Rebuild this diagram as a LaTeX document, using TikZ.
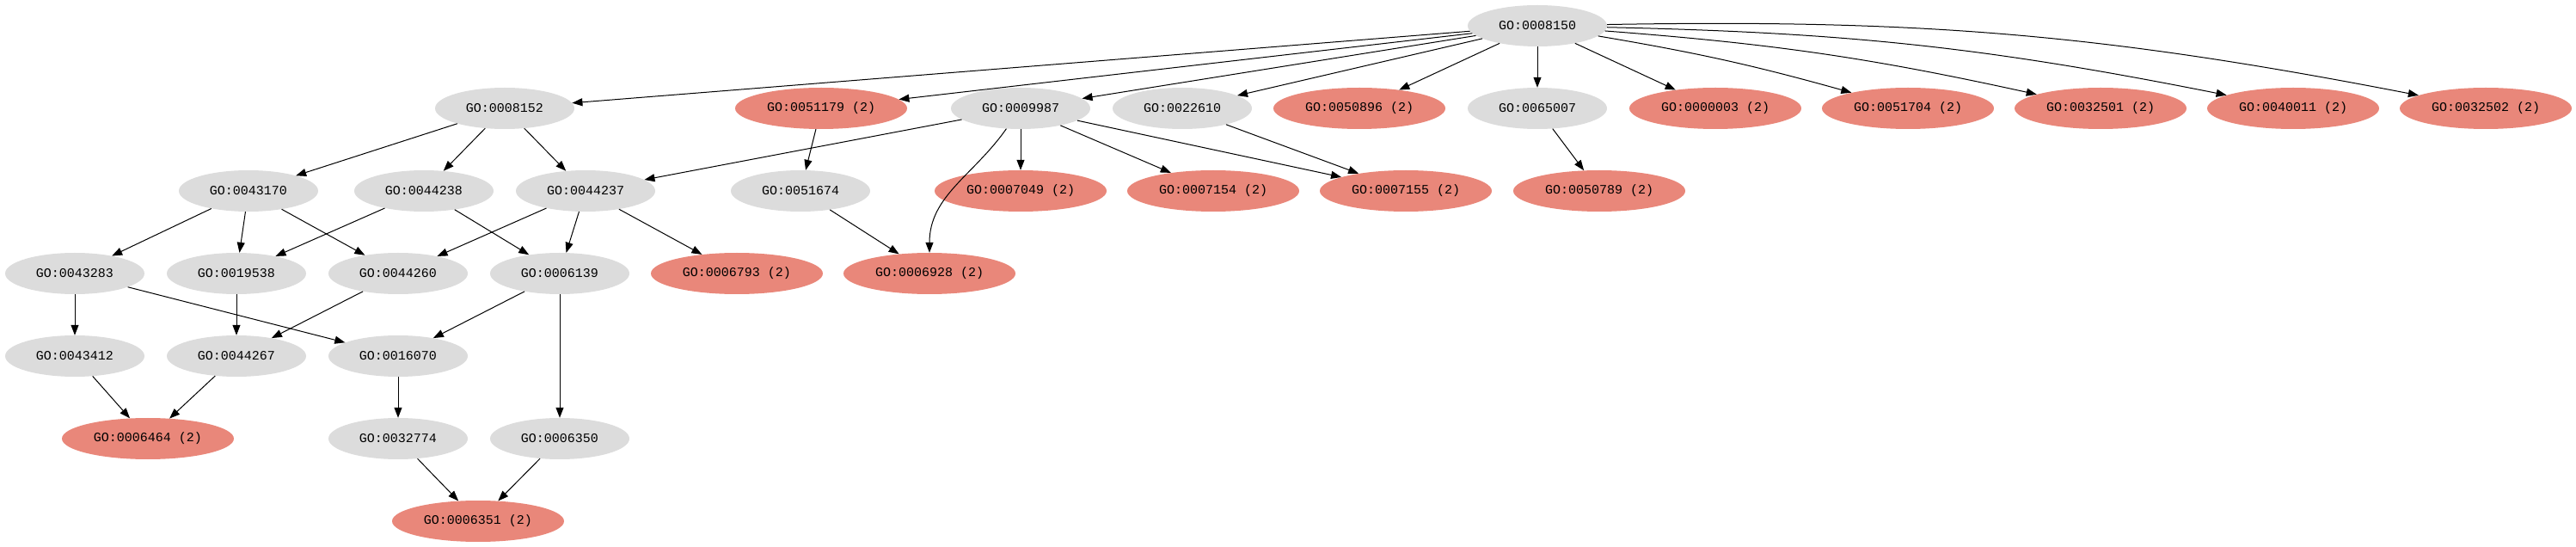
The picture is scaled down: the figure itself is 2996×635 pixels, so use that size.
\documentclass[tikz,border=0pt]{standalone}
\usepackage{fontspec}
\setmonofont{Liberation Mono}
\usetikzlibrary{shapes.geometric,arrows.meta}
\definecolor{termgrey}{HTML}{DCDCDC}
\definecolor{termred}{HTML}{E9877A}
\begin{document}
\begin{tikzpicture}[x=1pt,y=1pt,
  term/.style={ellipse, fill=termgrey, minimum width=162pt, minimum height=48pt,
    inner sep=0pt, font=\ttfamily\fontsize{15}{15}\selectfont},
  hit/.style={term, fill=termred, minimum width=200pt},
  link/.style={-{Triangle[length=12pt,width=9pt]}, line width=1pt}]
\useasboundingbox (0,0) rectangle (2996,635);
% row 0
\node (bp) [term] at (1788,605) {GO:0008150};
% row 1
\node (cp)  [term] at (587,509)  {GO:0008152};
\node (loc) [hit]  at (955,509)  {GO:0051179 (2)};
\node (cel) [term] at (1187,509) {GO:0009987};
\node (adh) [term] at (1375,509) {GO:0022610};
\node (stm) [hit]  at (1581,509) {GO:0050896 (2)};
\node (reg) [term] at (1788,509) {GO:0065007};
\node (rep) [hit]  at (1995,509) {GO:0000003 (2)};
\node (mop) [hit]  at (2219,509) {GO:0051704 (2)};
\node (mcp) [hit]  at (2443,509) {GO:0032501 (2)};
\node (loco)[hit]  at (2667,509) {GO:0040011 (2)};
\node (dev) [hit]  at (2891,509) {GO:0032502 (2)};
% row 2
\node (mac) [term] at (289,413)  {GO:0043170};
\node (pri) [term] at (493,413)  {GO:0044238};
\node (cmp) [term] at (681,413)  {GO:0044237};
\node (mot) [term] at (931,413)  {GO:0051674};
\node (ccy) [hit]  at (1187,413) {GO:0007049 (2)};
\node (ccs) [hit]  at (1411,413) {GO:0007154 (2)};
\node (cca) [hit]  at (1635,413) {GO:0007155 (2)};
\node (rbp) [hit]  at (1860,413) {GO:0050789 (2)};
% row 3
\node (mmp) [term] at (87,317)   {GO:0043283};
\node (prm) [term] at (275,317)  {GO:0019538};
\node (cmm) [term] at (463,317)  {GO:0044260};
\node (nuc) [term] at (651,317)  {GO:0006139};
\node (pho) [hit]  at (857,317)  {GO:0006793 (2)};
\node (cmo) [hit]  at (1081,317) {GO:0006928 (2)};
% row 4
\node (bmm) [term] at (87,221)   {GO:0043412};
\node (cpm) [term] at (275,221)  {GO:0044267};
\node (rna) [term] at (463,221)  {GO:0016070};
% row 5
\node (ppm) [hit]  at (172,125)  {GO:0006464 (2)};
\node (rbs) [term] at (463,125)  {GO:0032774};
\node (trn) [term] at (651,125)  {GO:0006350};
% row 6
\node (dtr) [hit]  at (556,29)   {GO:0006351 (2)};

\foreach \t in {cp,loc,cel,adh,stm,reg,rep}
  \draw[link] (bp) -- (\t);
\draw[link] (bp) to[bend left=3] (mop);
\draw[link] (bp) to[bend left=4] (mcp);
\draw[link] (bp) to[bend left=5] (loco);
\draw[link] (bp) to[bend left=6] (dev);

\draw[link] (cp) -- (mac);
\draw[link] (cp) -- (pri);
\draw[link] (cp) -- (cmp);
\draw[link] (cel) -- (cmp);
\draw[link] (cel) to[out=-125,in=90] (cmo);
\draw[link] (cel) -- (ccy);
\draw[link] (cel) -- (ccs);
\draw[link] (cel) -- (cca);
\draw[link] (loc) -- (mot);
\draw[link] (adh) -- (cca);
\draw[link] (reg) -- (rbp);

\draw[link] (mac) -- (mmp);
\draw[link] (mac) -- (prm);
\draw[link] (mac) -- (cmm);
\draw[link] (pri) -- (prm);
\draw[link] (pri) -- (nuc);
\draw[link] (cmp) -- (cmm);
\draw[link] (cmp) -- (nuc);
\draw[link] (cmp) -- (pho);
\draw[link] (mot) -- (cmo);

\draw[link] (mmp) -- (bmm);
\draw[link] (mmp) -- (rna);
\draw[link] (prm) -- (cpm);
\draw[link] (cmm) -- (cpm);
\draw[link] (nuc) -- (rna);
\draw[link] (nuc) -- (trn);

\draw[link] (bmm) -- (ppm);
\draw[link] (cpm) -- (ppm);
\draw[link] (rna) -- (rbs);
\draw[link] (rbs) -- (dtr);
\draw[link] (trn) -- (dtr);
\end{tikzpicture}
\end{document}
